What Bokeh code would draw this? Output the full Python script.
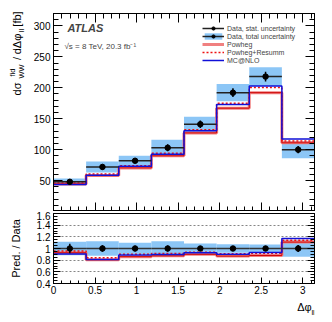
import numpy as np
from bokeh.plotting import figure
from bokeh.models import (Range1d, FixedTicker, LinearAxis, Label, Legend,
                          LegendItem, CustomJSTickFormatter)
from bokeh.layouts import column, row
from bokeh.core.properties import value
from bokeh.embed import file_html
from bokeh.resources import INLINE

# ---------------- data ----------------
DATA = [48, 72, 82, 103, 141, 192, 218, 100]
STAT = [4, 4, 4, 5.5, 6, 7, 8, 6]
TOTAL = [5.5, 9, 8, 13, 12, 14, 15, 14]
POWHEG = [44.5, 58, 70.5, 90, 127, 167, 192, 111]
POWHEG_RESUMM = [46, 60.5, 74, 94, 132, 175, 200.5, 114]
MCATNLO = [43.5, 58.5, 73, 92.5, 130.5, 173, 203, 117]

X_TICKS = [0, 0.5, 1, 1.5, 2, 2.5, 3]
X_LABELS = ["0", "0.5", "1", "1.5", "2", "2.5", "3"]
MAIN_Y_TICKS = [50, 100, 150, 200, 250, 300]
MAIN_Y_LABELS = ["50", "100", "150", "200", "250", "300"]
RATIO_Y_TICKS = [0.4, 0.6, 0.8, 1.0, 1.2, 1.4, 1.6]
RATIO_Y_LABELS = ["0.4", "0.6", "0.8", "1", "1.2", "1.4", "1.6"]

FONT = "Liberation Sans"
BLUE_BAND = "#8cc6f6"
SALMON = "#f08080"
DARK_RED = "#cc0000"
RED = "#ee1111"
MC_BLUE = "#1010d8"

data = np.array(DATA, float)
stat = np.array(STAT, float)
total = np.array(TOTAL, float)
edges = np.linspace(0, np.pi, len(DATA) + 1)
centers = 0.5 * (edges[:-1] + edges[1:])


def step_y(v):
    v = list(v)
    return v + [v[-1]]


x_range = Range1d(0, np.pi)
blank = CustomJSTickFormatter(code="return ''")

STRIP = 30          # left strip holding the rotated y titles
LEFT = 22           # room for tick labels
RIGHT = 16
W = LEFT + 262 + RIGHT
MAIN_H = 13 + 198
RATIO_H = 2 + 70 + 16
XT_H = 21
TOT_H = MAIN_H + RATIO_H + XT_H

# ---------------- main panel ----------------
p = figure(width=W, height=MAIN_H, x_range=x_range,
           y_range=Range1d(0, 320), output_backend="svg",
           toolbar_location=None, min_border_left=LEFT, min_border_right=RIGHT,
           min_border_top=13, min_border_bottom=0)
p.grid.visible = False
p.outline_line_color = "black"
p.outline_line_width = 1

x_ticker = FixedTicker(ticks=X_TICKS, minor_ticks=[i / 10 for i in range(0, 32)])
y_ticker = FixedTicker(ticks=MAIN_Y_TICKS, minor_ticks=list(range(0, 330, 10)))


def style_axis(ax, tin, tmin, labels=None, fs="10px"):
    ax.major_tick_in = tin
    ax.major_tick_out = 0
    ax.minor_tick_in = tmin
    ax.minor_tick_out = 0
    ax.axis_line_color = "black"
    ax.major_tick_line_color = "black"
    ax.minor_tick_line_color = "black"
    if labels is None:
        ax.formatter = blank
        ax.major_label_standoff = 0
        ax.major_label_text_font_size = "1px"
    else:
        ax.major_label_text_font_size = fs
        ax.major_label_text_font = FONT
        ax.major_label_text_color = "black"


p.yaxis.ticker = y_ticker
style_axis(p.yaxis[0], 9, 5, MAIN_Y_LABELS)
p.yaxis.major_label_overrides = dict(zip(MAIN_Y_TICKS, MAIN_Y_LABELS))
p.yaxis.major_label_standoff = 3
p.xaxis.ticker = x_ticker
style_axis(p.xaxis[0], 9, 5)

ax_r = LinearAxis(ticker=y_ticker)
style_axis(ax_r, 9, 5)
p.add_layout(ax_r, "right")
ax_t = LinearAxis(ticker=x_ticker)
style_axis(ax_t, 9, 5)
p.add_layout(ax_t, "above")

band = p.quad(left=edges[:-1], right=edges[1:], bottom=data - total,
              top=data + total, fill_color=BLUE_BAND, line_color=None)
pw_band = p.step(x=edges, y=step_y(POWHEG), mode="after", line_color=SALMON,
                 line_width=3)
pw_line = p.step(x=edges, y=step_y(POWHEG), mode="after", line_color=DARK_RED,
                 line_width=1)
rs_line = p.step(x=edges, y=step_y(POWHEG_RESUMM), mode="after", line_color=RED,
                 line_width=1.5, line_dash="2 2")
mc_line = p.step(x=edges, y=step_y(MCATNLO), mode="after", line_color=MC_BLUE,
                 line_width=1.5)
hbar = p.segment(x0=edges[:-1], x1=edges[1:], y0=data, y1=data,
                 line_color="#222222", line_width=1.5)
vbar = p.segment(x0=centers, x1=centers, y0=data - stat, y1=data + stat,
                 line_color="black", line_width=1.5)
pts = p.scatter(centers, data, size=5.5, fill_color="black", line_color="black")

legend = Legend(items=[
    LegendItem(label="Data, stat. uncertainty", renderers=[hbar, pts]),
    LegendItem(label="Data, total uncertainty", renderers=[band, hbar, pts]),
    LegendItem(label="Powheg", renderers=[pw_band]),
    LegendItem(label="Powheg+Resumm", renderers=[rs_line]),
    LegendItem(label="MC@NLO", renderers=[mc_line]),
], location=(149, 147), padding=0, spacing=0, margin=0,
    glyph_width=22, glyph_height=8, label_height=8, label_standoff=3,
    label_text_font_size="7px", label_text_font=FONT,
    border_line_color=None, background_fill_alpha=0)
p.add_layout(legend)

p.add_layout(Label(x=0.168, y=296, text="ATLAS", text_font=FONT,
                   text_font_size="11px", text_font_style="bold italic",
                   text_baseline="middle"))
p.add_layout(Label(x=0.132, y=266, text="\u221as = 8 TeV, 20.3 fb\u207b\u00b9",
                   text_font=FONT, text_font_size="8px", text_baseline="middle"))

# ---------------- ratio panel ----------------
r = figure(width=W, height=RATIO_H, x_range=x_range,
           y_range=Range1d(0.4, 1.6), output_backend="svg",
           toolbar_location=None, min_border_left=LEFT, min_border_right=RIGHT,
           min_border_top=2, min_border_bottom=16)
r.outline_line_color = "black"
r.xgrid.visible = False
rt = FixedTicker(ticks=RATIO_Y_TICKS,
                 minor_ticks=[0.4 + 0.05 * i for i in range(25)])
r.yaxis.ticker = rt
r.ygrid.ticker = rt
r.ygrid.grid_line_color = "#666666"
r.ygrid.grid_line_dash = "2 2"
r.ygrid.grid_line_width = 0.8
style_axis(r.yaxis[0], 7, 4, RATIO_Y_LABELS)
r.yaxis.major_label_overrides = dict(zip(RATIO_Y_TICKS, RATIO_Y_LABELS))
r.yaxis.major_label_standoff = 3
r.xaxis.ticker = x_ticker
style_axis(r.xaxis[0], 6, 3, X_LABELS)
r.xaxis.major_label_overrides = dict(zip(X_TICKS, X_LABELS))
r.xaxis.major_label_standoff = 2
ax_rr = LinearAxis(ticker=rt)
style_axis(ax_rr, 7, 4)
r.add_layout(ax_rr, "right")

r.quad(left=edges[:-1], right=edges[1:], bottom=1 - total / data,
       top=1 + total / data, fill_color=BLUE_BAND, line_color=None)
r.step(x=edges, y=step_y(np.array(POWHEG) / data), mode="after",
       line_color=SALMON, line_width=3)
r.step(x=edges, y=step_y(np.array(POWHEG) / data), mode="after",
       line_color=DARK_RED, line_width=1)
r.step(x=edges, y=step_y(np.array(POWHEG_RESUMM) / data), mode="after",
       line_color=RED, line_width=1.5, line_dash="2 2")
r.step(x=edges, y=step_y(np.array(MCATNLO) / data), mode="after",
       line_color=MC_BLUE, line_width=1.5)
ones = np.ones_like(data)
r.segment(x0=edges[:-1], x1=edges[1:], y0=ones, y1=ones, line_color="#333333",
          line_width=1.5)
r.segment(x0=centers, x1=centers, y0=1 - stat / data, y1=1 + stat / data,
          line_color="black", line_width=1.5)
r.scatter(centers, ones, size=5.5, fill_color="black", line_color="black")

# ---------------- x-axis title strip ----------------
xt = figure(width=W, height=XT_H, x_range=x_range, y_range=Range1d(0, XT_H),
            output_backend="svg", toolbar_location=None,
            x_axis_type=None, y_axis_type=None, min_border_left=LEFT,
            min_border_right=RIGHT, min_border_top=0, min_border_bottom=0)
xt.outline_line_color = None
xt.grid.visible = False
xt.text(x=[3.02, 3.125], y=[XT_H - 7, XT_H - 13], text=["\u0394\u03c6", "ll"],
        text_font=value(FONT), text_font_size=["11px", "7.5px"],
        text_align="center", text_baseline="middle", text_color="black")

# ---------------- y-axis titles strip ----------------
yt = figure(width=STRIP, height=TOT_H, x_range=Range1d(0, STRIP),
            y_range=Range1d(0, TOT_H), output_backend="svg",
            toolbar_location=None, x_axis_type=None, y_axis_type=None,
            min_border=0)
yt.outline_line_color = None
yt.grid.visible = False
top = TOT_H
yt.text(x=[16, 11.5, 20.5, 16, 16, 20.5, 16, 15],
        y=[top - 88.5, top - 72, top - 71, top - 58, top - 43.5, top - 30,
           top - 18.5, top - 248],
        text=["d\u03c3", "fid", "WW", "/", "d\u0394\u03c6", "ll", "[fb]",
              "Pred. / Data"],
        text_font_size=["11px", "7.5px", "7.5px", "11px", "11px", "7.5px",
                        "11px", "11px"],
        angle=np.pi / 2, text_font=value(FONT), text_align="center",
        text_baseline="middle", text_color="black")

layout = row(yt, column(p, r, xt, spacing=0), spacing=0)
open("out.html", "w").write(file_html(layout, INLINE))
